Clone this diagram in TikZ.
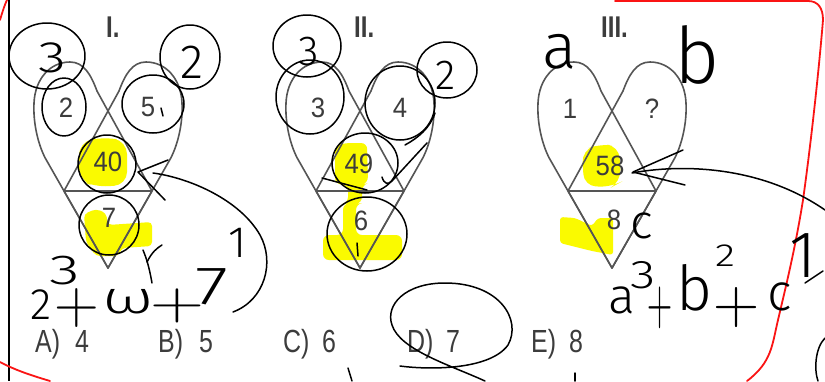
\documentclass[tikz,border=0pt]{standalone}
\usepackage{fontspec}
\newfontfamily\arial{Liberation Sans}
\newfontfamily\hand{Fira Sans Light}
\definecolor{pcol}{RGB}{60,60,60}
\definecolor{lcol}{RGB}{85,85,85}
\definecolor{hl}{RGB}{250,250,0}
\definecolor{redpen}{RGB}{250,20,20}
\begin{document}
\begin{tikzpicture}[x=1pt,y=-1pt,
  hline/.style={draw=lcol, line width=1.6pt, line join=round},
  pen/.style={draw=black, line width=1.5pt, line cap=round, line join=round},
  redline/.style={draw=redpen, line width=1.8pt, line cap=round},
  hi/.style={fill=hl, draw=none},
  num/.style={font=\arial\fontsize{28}{28}\selectfont, text=pcol, inner sep=0pt, xscale=0.92},
  ans/.style={font=\arial\fontsize{32}{32}\selectfont, text=pcol, inner sep=0pt, anchor=base west, xscale=0.78},
  rom/.style={font=\arial\bfseries\fontsize{30}{30}\selectfont, text=pcol, inner sep=0pt, anchor=base west, xscale=0.8},
  hw/.style={font=\hand\fontsize{#1}{#1}\selectfont, text=black, inner sep=0pt},
  hwplus/.style={font=\rmfamily\fontsize{#1}{#1}\selectfont, text=black, inner sep=0pt},
  heart/.pic={
    \draw[hline] (0,157) -- (-44,80) -- (-62.8,47) .. controls (-70,33) and (-75,12) .. (-74,-8) .. controls (-73,-32) and (-58,-49) .. (-38,-49) .. controls (-24,-49) and (-17,-36) .. (-11,-20) -- (44,80) -- cycle;
    \draw[hline] (0,157) -- (44,80) -- (62.8,47) .. controls (70,33) and (75,12) .. (74,-8) .. controls (73,-32) and (58,-49) .. (38,-49) .. controls (24,-49) and (17,-36) .. (11,-20) -- (-44,80) -- cycle;
    \draw[hline] (-44,80) -- (44,80);
  }]
\useasboundingbox (0,0) rectangle (825,381);
\fill[white] (0,0) rectangle (825,381);
% highlights
\fill[hi, rounded corners=13] (79,142) -- (104,137) -- (127,141) -- (127,185) -- (95,187) -- (79,180) -- cycle;
\fill[hi, rounded corners=4] (84,214) -- (96,209) -- (106,213) -- (108,225) -- (152,222) -- (152,246) -- (122,248) -- (118,256) -- (96,256) -- (86,242) -- cycle;
\fill[hi, rounded corners=6] (335,146) -- (345,143) -- (367,143) -- (368,183) -- (362,185) -- (362,203) -- (356,204) -- (356,235) -- (402,235) -- (402,260) -- (323,260) -- (323,235) -- (343,235) -- (343,204) -- (348,203) -- (348,185) -- (335,184) -- cycle;
\fill[hi, rounded corners=12] (582,150) -- (600,144) -- (619,146) -- (621,182) -- (612,187) -- (584,186) -- cycle;
\fill[hi, rounded corners=3] (560,217) -- (575,218) -- (592,226) -- (598,218) -- (613,218) -- (613,255) -- (592,251) -- (560,243) -- cycle;
% hearts
\pic at (108,111) {heart};
\pic at (360,111) {heart};
\pic at (612,111) {heart};
% printed labels
\node[rom] (r1) at (106,37) {I.};
\node[rom] (r2) at (354,37) {II.};
\node[rom] (r3) at (601,37) {III.};
\node[num] (h1a) at (66,108) {2};
\node[num] (h1b) at (148,107) {5};
\node[num] (h1c) at (108,162) {40};
\node[num] (h1d) at (109,218) {7};
\node[num] (h2a) at (318,108) {3};
\node[num] (h2b) at (400,108) {4};
\node[num] (h2c) at (359,164) {49};
\node[num] (h2d) at (361,221) {6};
\node[num] (h3a) at (570,109) {1};
\node[num] (h3b) at (652,109) {?};
\node[num] (h3c) at (610,166) {58};
\node[num] (h3d) at (614,220) {8};
\node[ans] (aA) at (35,352) {A)};
\node[ans] (aAv) at (75,352) {4};
\node[ans] (aB) at (158,352) {B)};
\node[ans] (aBv) at (199,352) {5};
\node[ans] (aC) at (283,352) {C)};
\node[ans] (aCv) at (322,352) {6};
\node[ans] (aD) at (407,352) {D)};
\node[ans] (aDv) at (446,352) {7};
\node[ans] (aE) at (531,352) {E)};
\node[ans] (aEv) at (569,352) {8};
% scan border and red pen
\draw[black, line width=1.8pt] (9,0) -- (9,381);
\draw[redline] (0,20) .. controls (3,10) and (5,4) .. (7,0);
\draw[redline] (615,1) -- (808,1) .. controls (818,1) and (823,8) .. (823,20) .. controls (818,80) and (810,150) .. (803,200) .. controls (795,250) and (785,290) .. (778,320) .. controls (772,345) and (772,362) .. (747,381);
\draw[redline] (0,362) .. controls (15,370) and (30,375) .. (50,381);
% handwriting heart I
\draw[pen] (47,56) ellipse [x radius=38, y radius=33];
\draw[pen] (64,107) ellipse [x radius=22, y radius=29];
\draw[pen] (153,104) ellipse [x radius=31, y radius=29];
\draw[pen] (190,57) ellipse [x radius=30, y radius=32];
\draw[pen] (107,164) circle [radius=29];
\draw[pen] (109,225) circle [radius=30];
\node[hw=44, xscale=1.3] (w1) at (52,58) {3};
\node[hw=48] (w2) at (192,62) {2};
\draw[pen] (161,108) -- (163,116);
\draw[pen] (153,173) .. controls (190,178) and (240,200) .. (260,235) .. controls (275,262) and (265,300) .. (233,312);
\draw[pen] (168,160) -- (138,172) -- (165,200);
\draw[pen] (143,250) .. controls (148,262) and (150,272) .. (152,283);
\draw[pen] (147,262) .. controls (152,252) and (157,248) .. (162,245);
\node[hw=44] (f1) at (41,305) {2};
\node[hw=42, xscale=1.5] (f2) at (65,271) {3};
\node[hwplus=62] (f3) at (77,308) {+};
\node[hw=46, xscale=1.45] (f4) at (128,302) {ω};
\node[hwplus=68, xscale=1.1, yscale=0.8] (f5) at (177,306) {+};
\node[hw=54, xscale=1.4] (f6) at (212,287) {7};
\node[hw=44] (f7) at (238,243) {1};
% handwriting heart II
\draw[pen] (307,46) ellipse [x radius=34, y radius=31];
\draw[pen] (310,97) ellipse [x radius=34, y radius=37];
\draw[pen] (400,103) ellipse [x radius=35, y radius=37];
\draw[pen] (447,70) ellipse [x radius=30, y radius=28];
\draw[pen] (365,163) ellipse [x radius=33, y radius=30];
\draw[pen] (367,234) ellipse [x radius=40, y radius=37];
\node[hw=42] (w3) at (309,52) {3};
\node[hw=42] (w4) at (446,75) {2};
\draw[pen] (322,178) -- (367,190);
\draw[pen] (382,177) .. controls (384,184) and (388,185) .. (392,181) -- (427,143);
\draw[pen] (405,145) .. controls (418,138) and (430,128) .. (435,113);
\draw[pen] (357,243) -- (358,256);
% answer D
\draw[pen] (400,366) .. controls (430,370) and (490,370) .. (508,345) .. controls (522,320) and (500,283) .. (445,283) .. controls (405,283) and (385,305) .. (392,325) .. controls (400,350) and (450,365) .. (485,381);
\draw[pen] (348,368) -- (352,381);
\draw[pen] (575,373) -- (575,381);
% handwriting heart III
\node[hw=64] (wa) at (560,52) {a};
\node[hw=78] (wb) at (697,55) {b};
\node[hw=48] (wc) at (642,226) {c};
\draw[pen] (632,173) .. controls (680,164) and (760,165) .. (825,210);
\draw[pen] (683,150) -- (633,172) -- (685,185);
\node[hw=50] (g1) at (622,300) {a};
\node[hw=40, xscale=1.3] (g2) at (643,275) {3};
\node[hwplus=58, xscale=0.6, yscale=1.15] (g3) at (660,308) {+};
\node[hw=62] (g4) at (695,288) {b};
\node[hw=32, xscale=1.3] (g5) at (725,256) {2};
\node[hwplus=64] (g6) at (737,308) {+};
\node[hw=52] (g7) at (780,297) {c};
\node[hw=66] (g8) at (803,256) {1};
\draw[pen] (805,283) -- (823,271);
\draw[pen] (825,338) .. controls (815,348) and (814,370) .. (818,381);
\end{tikzpicture}
\end{document}
